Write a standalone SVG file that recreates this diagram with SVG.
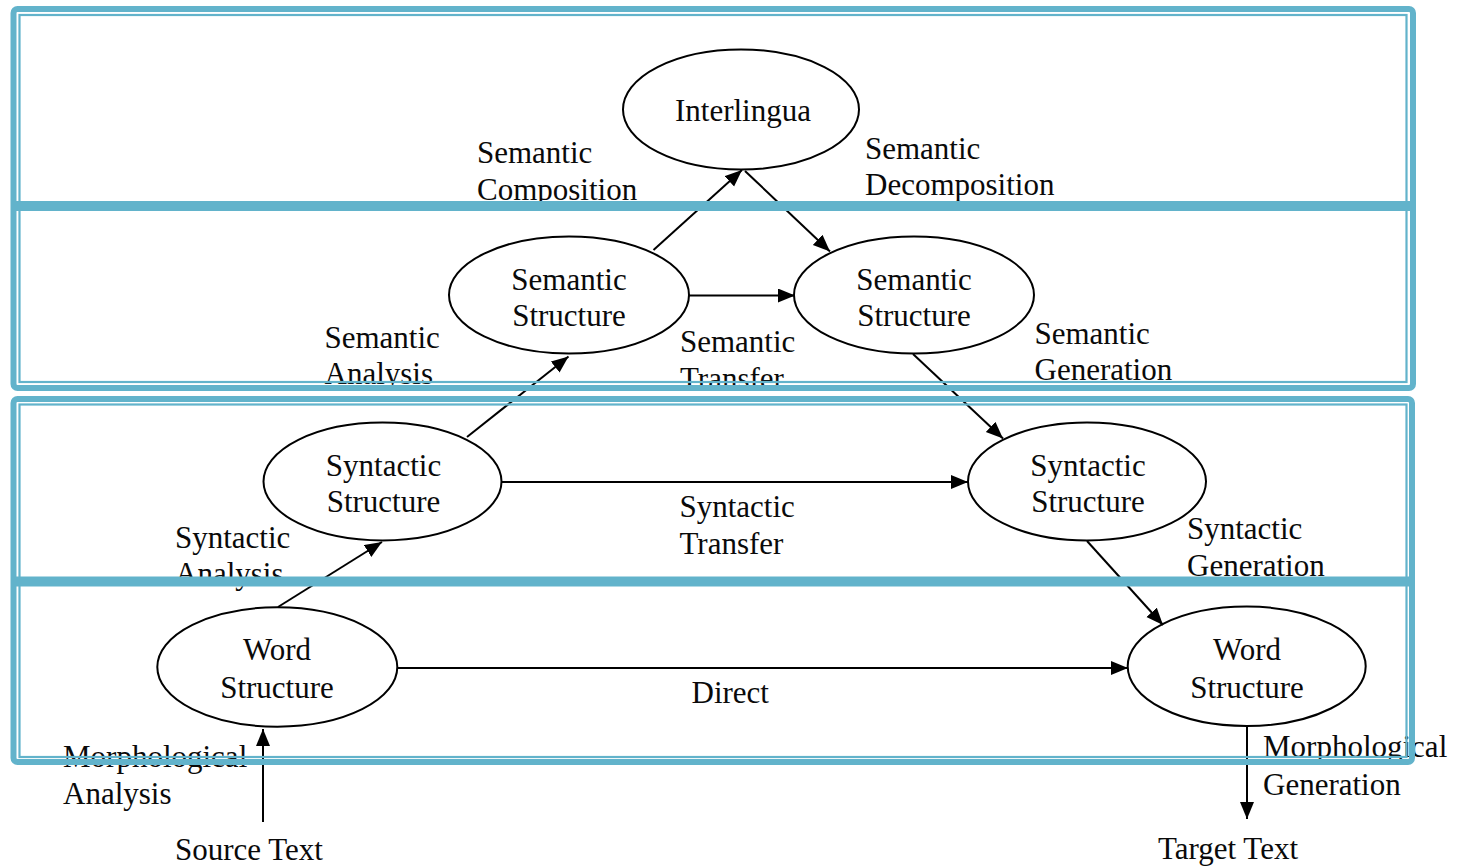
<svg xmlns="http://www.w3.org/2000/svg" width="1460" height="867" viewBox="0 0 1460 867">
  <style>
    .node ellipse { fill: none; stroke: #000; stroke-width: 2; }
    .node text, .label { font-family: "Liberation Serif", "Times New Roman", serif; font-size: 31px; fill: #0a0a0a; }
    .node text { text-anchor: middle; }
    .edge { stroke: #000; stroke-width: 2; fill: none; marker-end: url(#arrow); }
    .frame-outer { fill: none; stroke: #62b3cb; stroke-width: 6; }
    .frame-inner { fill: none; stroke: #62b3cb; stroke-width: 2.2; }
    .frame-bar { stroke: #62b3cb; stroke-width: 10; }
  </style>
  <defs>
    <marker id="arrow" markerUnits="userSpaceOnUse" markerWidth="18" markerHeight="15" refX="17" refY="7" orient="auto">
      <path d="M0,0 L17,7 L0,14 Z" fill="#000"/>
    </marker>
  </defs>

  <rect width="1460" height="867" fill="#fff"/>

  <!-- connectors -->
  <g id="connectors">
    <line class="edge" x1="263" y1="822" x2="263" y2="729"/>
    <line class="edge" x1="1247" y1="727" x2="1247" y2="819"/>
    <line class="edge" x1="397" y1="668" x2="1128" y2="668"/>
    <line class="edge" x1="502" y1="482" x2="968" y2="482"/>
    <line class="edge" x1="689" y1="295.5" x2="795" y2="295.5"/>
    <line class="edge" x1="278" y1="607" x2="382" y2="542"/>
    <line class="edge" x1="467" y1="437" x2="568.5" y2="356.5"/>
    <line class="edge" x1="653.5" y1="250" x2="742" y2="170"/>
    <line class="edge" x1="745" y1="171" x2="830" y2="251.5"/>
    <line class="edge" x1="913" y1="354" x2="1003" y2="438.5"/>
    <line class="edge" x1="1087" y1="541" x2="1163" y2="625"/>
  </g>

  <!-- nodes -->
  <g id="interlingua" class="node">
    <ellipse cx="741" cy="109.5" rx="118" ry="60"/>
    <text x="743" y="121">Interlingua</text>
  </g>
  <g id="semantic-structure-source" class="node">
    <ellipse cx="569" cy="295" rx="120" ry="58.5"/>
    <text x="569" y="289.5">Semantic</text>
    <text x="569" y="325.5">Structure</text>
  </g>
  <g id="semantic-structure-target" class="node">
    <ellipse cx="914" cy="295" rx="120" ry="58.5"/>
    <text x="914" y="289.5">Semantic</text>
    <text x="914" y="325.5">Structure</text>
  </g>
  <g id="syntactic-structure-source" class="node">
    <ellipse cx="382.5" cy="481.5" rx="119" ry="59"/>
    <text x="383.5" y="476">Syntactic</text>
    <text x="383.5" y="512">Structure</text>
  </g>
  <g id="syntactic-structure-target" class="node">
    <ellipse cx="1087" cy="481.5" rx="119" ry="59"/>
    <text x="1088" y="476">Syntactic</text>
    <text x="1088" y="512">Structure</text>
  </g>
  <g id="word-structure-source" class="node">
    <ellipse cx="277.3" cy="667" rx="120" ry="59.7"/>
    <text x="277" y="660">Word</text>
    <text x="277" y="698">Structure</text>
  </g>
  <g id="word-structure-target" class="node">
    <ellipse cx="1246.7" cy="666.3" rx="119" ry="59.7"/>
    <text x="1247" y="659.5">Word</text>
    <text x="1247" y="697.5">Structure</text>
  </g>

  <!-- edge labels -->
  <g id="labels">
    <text class="label" x="477" y="163">Semantic</text>
    <text class="label" x="477" y="199.5">Composition</text>
    <text class="label" x="865" y="159">Semantic</text>
    <text class="label" x="865" y="195">Decomposition</text>
    <text class="label" x="324.5" y="348">Semantic</text>
    <text class="label" x="324.5" y="384">Analysis</text>
    <text class="label" x="680" y="352">Semantic</text>
    <text class="label" x="680" y="388.5">Transfer</text>
    <text class="label" x="1034.5" y="343.5">Semantic</text>
    <text class="label" x="1034.5" y="380">Generation</text>
    <text class="label" x="175" y="547.5">Syntactic</text>
    <text class="label" x="175" y="584">Analysis</text>
    <text class="label" x="679.5" y="517">Syntactic</text>
    <text class="label" x="679.5" y="554">Transfer</text>
    <text class="label" x="1187" y="539">Syntactic</text>
    <text class="label" x="1187" y="576">Generation</text>
    <text class="label" x="691.5" y="703">Direct</text>
    <text class="label" x="63" y="767">Morphological</text>
    <text class="label" x="63" y="804">Analysis</text>
    <text class="label" x="175" y="860">Source Text</text>
    <text class="label" x="1263" y="757">Morphological</text>
    <text class="label" x="1263" y="795">Generation</text>
    <text class="label" x="1158" y="858.5">Target Text</text>
  </g>

  <!-- level frames -->
  <g id="frame-upper">
    <rect class="frame-outer" x="13.5" y="9" width="1399.5" height="379" rx="4"/>
    <rect class="frame-inner" x="19.5" y="15" width="1387" height="367"/>
    <line class="frame-bar" x1="16" y1="206" x2="1410" y2="206"/>
  </g>
  <g id="frame-lower">
    <rect class="frame-outer" x="13.5" y="399" width="1398.5" height="363" rx="4"/>
    <rect class="frame-inner" x="19.5" y="404.5" width="1387" height="352.5"/>
    <line class="frame-bar" x1="16" y1="581.5" x2="1409" y2="581.5"/>
  </g>
</svg>
